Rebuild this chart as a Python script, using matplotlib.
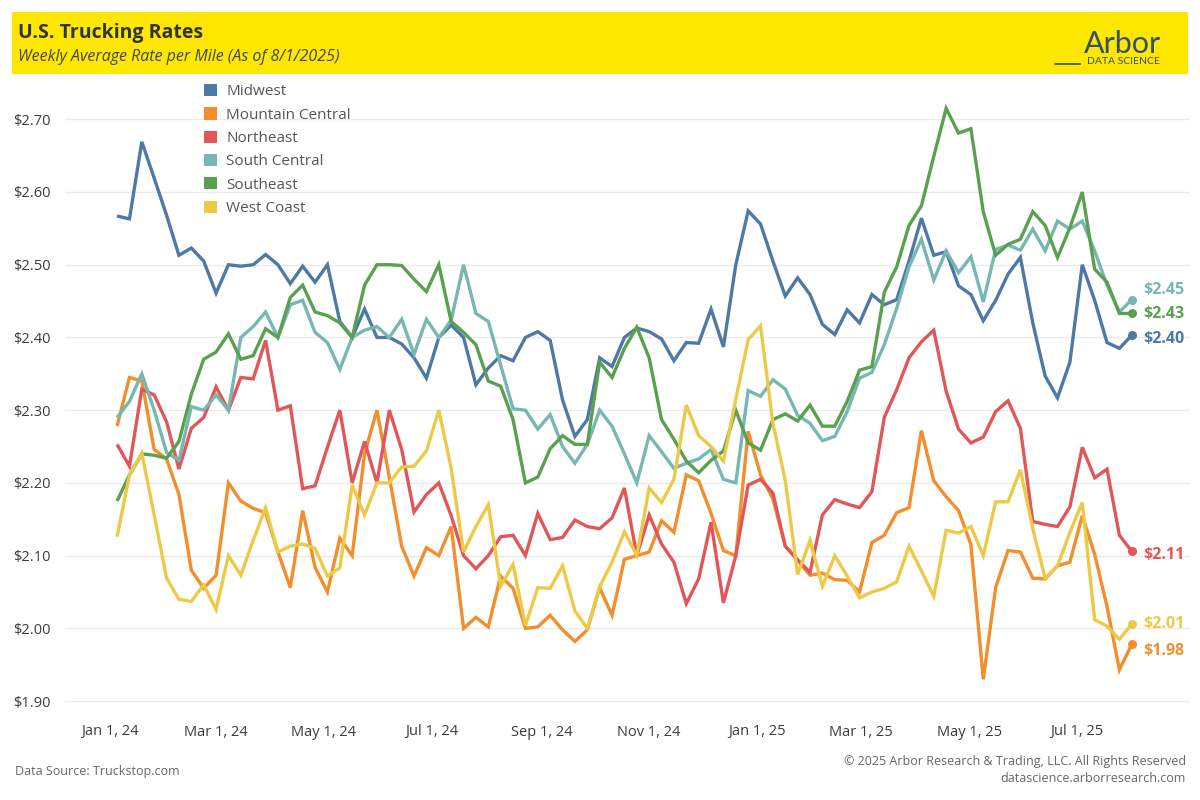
import matplotlib
matplotlib.use("Agg")
import matplotlib.pyplot as plt
import matplotlib.dates as mdates
from matplotlib.patches import Rectangle, Patch
from matplotlib.lines import Line2D
import pandas as pd

plt.rcParams['font.family'] = ['Open Sans', 'DejaVu Sans']

# ---------------- data ----------------
dates = pd.date_range('2024-01-05', periods=83, freq='7D')

series_names = ["Midwest", "Mountain Central", "Northeast", "South Central", "Southeast", "West Coast"]
colors = ["#4E79A7", "#F28E2B", "#E15759", "#76B7B2", "#59A14F", "#EDC948"]

midwest = [2.567, 2.563, 2.669, 2.619, 2.568, 2.513, 2.523, 2.505, 2.461, 2.500,
           2.498, 2.500, 2.514, 2.500, 2.474, 2.498, 2.476, 2.500, 2.422, 2.400,
           2.439, 2.400, 2.400, 2.391, 2.372, 2.344, 2.400, 2.417, 2.400, 2.335,
           2.358, 2.375, 2.368, 2.400, 2.408, 2.396, 2.314, 2.264, 2.287, 2.372,
           2.360, 2.400, 2.413, 2.408, 2.398, 2.368, 2.393, 2.392, 2.439, 2.387,
           2.500, 2.574, 2.556, 2.505, 2.457, 2.482, 2.459, 2.418, 2.404, 2.438,
           2.420, 2.459, 2.445, 2.452, 2.505, 2.564, 2.513, 2.518, 2.471, 2.459,
           2.423, 2.451, 2.487, 2.510, 2.420, 2.347, 2.317, 2.366, 2.500, 2.451,
           2.393, 2.385, 2.403]
mountain_central = [2.278, 2.345, 2.340, 2.246, 2.233, 2.184, 2.080, 2.055, 2.073, 2.200,
                    2.175, 2.165, 2.159, 2.105, 2.056, 2.162, 2.084, 2.050, 2.124, 2.100,
                    2.240, 2.300, 2.208, 2.113, 2.072, 2.111, 2.100, 2.140, 2.000, 2.015,
                    2.002, 2.072, 2.055, 2.000, 2.002, 2.018, 1.998, 1.982, 1.998, 2.056,
                    2.018, 2.095, 2.100, 2.105, 2.148, 2.132, 2.211, 2.203, 2.158, 2.107,
                    2.100, 2.271, 2.211, 2.178, 2.113, 2.094, 2.073, 2.076, 2.067, 2.066,
                    2.050, 2.118, 2.128, 2.159, 2.166, 2.272, 2.203, 2.181, 2.162, 2.115,
                    1.930, 2.056, 2.107, 2.105, 2.069, 2.068, 2.086, 2.091, 2.155, 2.102,
                    2.030, 1.943, 1.978]
northeast = [2.253, 2.223, 2.329, 2.321, 2.284, 2.219, 2.275, 2.290, 2.332, 2.300,
             2.345, 2.343, 2.396, 2.300, 2.306, 2.192, 2.196, 2.249, 2.300, 2.200,
             2.257, 2.200, 2.300, 2.246, 2.160, 2.184, 2.200, 2.155, 2.100, 2.082,
             2.100, 2.126, 2.128, 2.100, 2.158, 2.122, 2.125, 2.149, 2.140, 2.137,
             2.152, 2.193, 2.100, 2.156, 2.116, 2.091, 2.034, 2.068, 2.146, 2.035,
             2.100, 2.197, 2.205, 2.186, 2.113, 2.094, 2.077, 2.156, 2.177, 2.171,
             2.166, 2.188, 2.290, 2.328, 2.372, 2.394, 2.410, 2.326, 2.274, 2.255,
             2.263, 2.298, 2.313, 2.275, 2.147, 2.143, 2.140, 2.167, 2.249, 2.207,
             2.219, 2.128, 2.106]
south_central = [2.290, 2.312, 2.350, 2.300, 2.242, 2.231, 2.305, 2.300, 2.321, 2.300,
                 2.400, 2.415, 2.435, 2.400, 2.445, 2.451, 2.407, 2.393, 2.356, 2.400,
                 2.410, 2.415, 2.400, 2.425, 2.377, 2.425, 2.400, 2.424, 2.500, 2.433,
                 2.422, 2.362, 2.302, 2.300, 2.274, 2.294, 2.250, 2.227, 2.253, 2.300,
                 2.278, 2.240, 2.200, 2.265, 2.243, 2.220, 2.227, 2.233, 2.246, 2.205,
                 2.200, 2.327, 2.319, 2.342, 2.329, 2.293, 2.282, 2.258, 2.264, 2.298,
                 2.344, 2.352, 2.390, 2.440, 2.497, 2.535, 2.479, 2.519, 2.489, 2.511,
                 2.449, 2.521, 2.527, 2.520, 2.549, 2.519, 2.560, 2.549, 2.560, 2.519,
                 2.472, 2.435, 2.452]
southeast = [2.175, 2.211, 2.240, 2.238, 2.234, 2.257, 2.322, 2.370, 2.380, 2.405,
             2.370, 2.375, 2.412, 2.400, 2.455, 2.472, 2.435, 2.430, 2.420, 2.400,
             2.472, 2.500, 2.500, 2.499, 2.480, 2.463, 2.500, 2.422, 2.407, 2.390,
             2.340, 2.333, 2.287, 2.200, 2.208, 2.247, 2.265, 2.253, 2.253, 2.366,
             2.345, 2.385, 2.414, 2.372, 2.287, 2.260, 2.230, 2.214, 2.231, 2.244,
             2.300, 2.255, 2.245, 2.287, 2.295, 2.285, 2.307, 2.278, 2.278, 2.312,
             2.355, 2.360, 2.462, 2.497, 2.554, 2.581, 2.649, 2.715, 2.681, 2.687,
             2.573, 2.513, 2.528, 2.535, 2.573, 2.554, 2.510, 2.551, 2.600, 2.494,
             2.476, 2.433, 2.433]
west_coast = [2.126, 2.211, 2.241, 2.156, 2.069, 2.040, 2.037, 2.060, 2.026, 2.100,
              2.073, 2.121, 2.166, 2.105, 2.113, 2.116, 2.110, 2.072, 2.083, 2.197,
              2.156, 2.200, 2.200, 2.222, 2.223, 2.244, 2.300, 2.220, 2.105, 2.140,
              2.170, 2.058, 2.088, 2.004, 2.056, 2.055, 2.086, 2.024, 2.000, 2.057,
              2.091, 2.133, 2.100, 2.193, 2.173, 2.205, 2.307, 2.265, 2.250, 2.230,
              2.315, 2.397, 2.416, 2.282, 2.203, 2.074, 2.121, 2.058, 2.100, 2.072,
              2.042, 2.050, 2.055, 2.064, 2.113, 2.079, 2.044, 2.135, 2.131, 2.140,
              2.100, 2.174, 2.174, 2.218, 2.137, 2.069, 2.086, 2.132, 2.173, 2.012,
              2.003, 1.985, 2.006]

series_values = [midwest, mountain_central, northeast, south_central, southeast, west_coast]
end_labels = ["$2.40", "$1.98", "$2.11", "$2.45", "$2.43", "$2.01"]
label_dy_pt = [-2.5, -4.5, -3, 7, -0.5, 0]   # vertical nudges of end labels (points)

y_ticks = [1.90, 2.00, 2.10, 2.20, 2.30, 2.40, 2.50, 2.60, 2.70]
y_tick_labels = ["$1.90", "$2.00", "$2.10", "$2.20", "$2.30", "$2.40", "$2.50", "$2.60", "$2.70"]
x_tick_dates = ["2024-01-01", "2024-03-01", "2024-05-01", "2024-07-01", "2024-09-01",
                "2024-11-01", "2025-01-01", "2025-03-01", "2025-05-01", "2025-07-01"]
x_tick_labels = ["Jan 1, 24", "Mar 1, 24", "May 1, 24", "Jul 1, 24", "Sep 1, 24",
                 "Nov 1, 24", "Jan 1, 25", "Mar 1, 25", "May 1, 25", "Jul 1, 25"]

# ---------------- figure ----------------
W, H = 1200, 800
fig = plt.figure(figsize=(12, 8), dpi=100)
fig.patch.set_facecolor('white')

# banner
fig.patches.append(Rectangle((12 / W, 1 - 74 / H), 1176 / W, 62 / H,
                             transform=fig.transFigure, facecolor='#FFE800',
                             edgecolor='none', zorder=0))
fig.text(18 / W, 1 - 33 / H, "U.S. Trucking Rates", fontsize=14, fontweight='bold',
         color='#333333', va='center', ha='left')
fig.text(18 / W, 1 - 57 / H, "Weekly Average Rate per Mile (As of 8/1/2025)", fontsize=11.5,
         style='italic', color='#444444', va='center', ha='left')

# logo
logo_c = '#34506F'
fig.text(1161 / W, 1 - 44 / H, "Arbor", fontsize=22, color=logo_c, ha='right', va='center',
         family=['Lato', 'DejaVu Sans'])
fig.text(1160 / W, 1 - 61 / H, "DATA SCIENCE", fontsize=7.5, color=logo_c, ha='right',
         va='center', family=['Lato', 'DejaVu Sans'])
fig.lines.append(Line2D([1055 / W, 1080 / W], [1 - 64 / H, 1 - 64 / H], transform=fig.transFigure,
                        color=logo_c, lw=1.2))

# axes
ax = fig.add_axes([65 / W, 1 - 712 / H, (1190 - 65) / W, (712 - 80) / H])
ax.set_facecolor('white')

jan1 = mdates.date2num(pd.Timestamp('2024-01-01'))
px_per_day = 647 / 366
ax.set_xlim(jan1 - 45 / px_per_day, jan1 + (1190 - 110) / px_per_day)
ax.set_ylim(1.885, 2.754)

for yv in y_ticks:
    ax.axhline(yv, color='#EBEBEB', lw=1, zorder=0)

for name, vals, col, lab, dy in zip(series_names, series_values, colors, end_labels, label_dy_pt):
    ax.plot(dates, vals, color=col, lw=2.4, solid_joinstyle='miter', solid_capstyle='butt',
            zorder=3)
    ax.plot(dates[-1:], vals[-1:], 'o', color=col, ms=5.5, zorder=4)
    ax.annotate(lab, xy=(dates[-1], vals[-1]), xytext=(8, dy), textcoords='offset points',
                color=col, fontsize=11.5, fontweight='bold', va='center', ha='left',
                annotation_clip=False)

for s in ax.spines.values():
    s.set_visible(False)

ax.set_yticks(y_ticks)
ax.set_yticklabels(y_tick_labels)
ax.set_xticks([pd.Timestamp(d) for d in x_tick_dates])
ax.set_xticklabels(x_tick_labels)
ax.tick_params(axis='both', length=0, labelsize=10.5, labelcolor='#3C3C3C')
ax.tick_params(axis='y', pad=37)
for t in ax.get_yticklabels():
    t.set_ha('left')
ax.tick_params(axis='x', pad=9)

# legend
handles = [Patch(facecolor=c, edgecolor='none') for c in colors]
leg = ax.legend(handles, series_names, loc='upper left',
                bbox_to_anchor=(204 / W, 1 - 84 / H), bbox_transform=fig.transFigure,
                frameon=False, fontsize=11, handlelength=0.85, handleheight=0.85,
                handletextpad=0.6, labelspacing=0.52, borderpad=0, borderaxespad=0)
for t in leg.get_texts():
    t.set_color('#555555')

# footer
fig.text(15 / W, 1 - 771 / H, "Data Source: Truckstop.com", fontsize=9, color='#666666',
         ha='left', va='center')
fig.text(1186 / W, 1 - 762 / H, "\u00a9 2025 Arbor Research & Trading, LLC. All Rights Reserved",
         fontsize=9, color='#666666', ha='right', va='center')
fig.text(1186 / W, 1 - 779 / H, "datascience.arborresearch.com", fontsize=9, color='#666666',
         ha='right', va='center')

fig.savefig('out.png', dpi=100)
